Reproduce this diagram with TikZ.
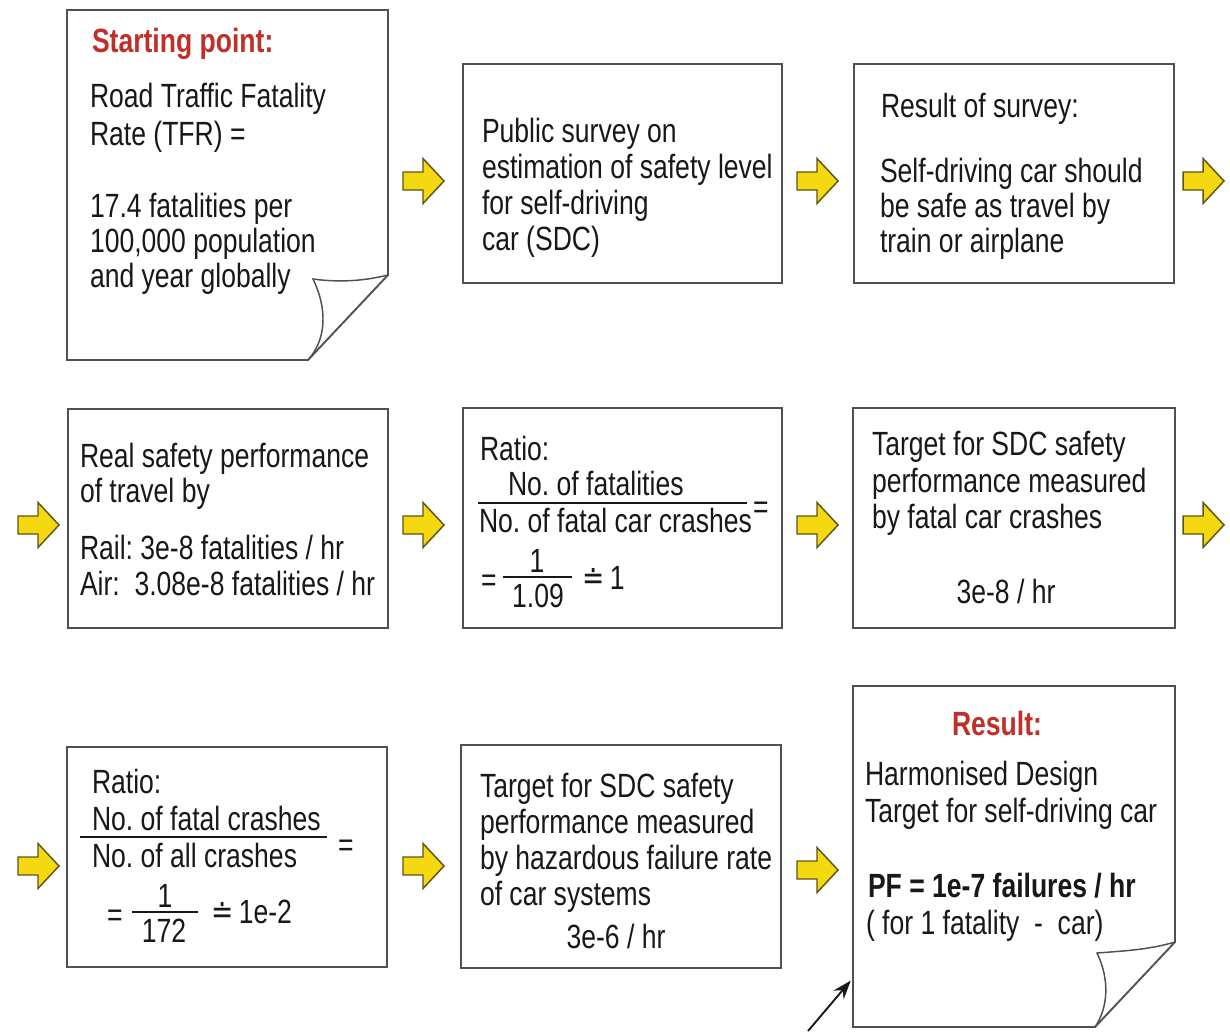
\documentclass[tikz,border=0pt]{standalone}
\usepackage{fontspec}
\setmainfont{Liberation Sans}[FakeStretch=0.79]
\newfontfamily\symfont{DejaVu Sans}[FakeStretch=0.79]
\usetikzlibrary{fit,arrows.meta}
\definecolor{boxgray}{RGB}{80,80,80}
\definecolor{txtcol}{RGB}{24,24,24}
\definecolor{headred}{RGB}{192,48,40}
\definecolor{arrfill}{RGB}{244,216,18}
\definecolor{arrline}{RGB}{95,85,20}
\tikzset{
  box/.style={draw=boxgray, line width=1.4pt, inner sep=0pt},
  curl/.style={draw=boxgray, line width=1.4pt, line join=miter},
  flap/.style={draw=boxgray, line width=1.1pt},
  txt/.style={anchor=base west, inner sep=0pt, outer sep=0pt, text=txtcol, font=\frenchspacing\fontsize{25.2}{27}\selectfont},
  ctxt/.style={txt, anchor=base},
  head/.style={txt, text=headred, font=\frenchspacing\bfseries\fontsize{25.2}{27}\selectfont},
  fbar/.style={draw=txtcol, line width=1.1pt},
  yarrstyle/.style={fill=arrfill, draw=arrline, line width=1.1pt, line join=miter},
  yarr/.pic={\path[yarrstyle] (0,-9) -- (20,-9) -- (20,-22.5) -- (41,0) -- (20,22.5) -- (20,9) -- (0,9) -- cycle;}
}
\begin{document}
\begin{tikzpicture}[x=0.75pt,y=-0.75pt]
\useasboundingbox (0,0) rectangle (1230,1031);
\fill[white] (0,0) rectangle (1230,1031);

% ---------- Box 1 (page curl) ----------
\coordinate (b1nw) at (67,10);
\coordinate (b1se) at (388,360);
\node[fit=(b1nw)(b1se), inner sep=0pt] (b1) {};
\path[curl] (67,10) -- (388,10) -- (388,275) -- (308,360) -- (67,360) -- cycle;
\path[flap] (388,275) .. controls (360,282) and (335,282) .. (313,279)
            .. controls (328,310) and (326,340) .. (308,360);
\node[head] (t1a) at (92,53) {Starting point:};
\node[txt] (t1b) at (90,108) {Road Traffic Fatality};
\node[txt] (t1c) at (90,145) {Rate (TFR) =};
\node[txt] (t1d) at (90,217) {17.4 fatalities per};
\node[txt] (t1e) at (90,252) {100,000 population};
\node[txt] (t1f) at (90,287) {and year globally};

% ---------- Box 2 ----------
\coordinate (b2nw) at (463,64);
\coordinate (b2se) at (782,283);
\node[box, fit=(b2nw)(b2se)] (b2) {};
\node[txt] (t2a) at (482,142) {Public survey on};
\node[txt] (t2b) at (482,178) {estimation of safety level};
\node[txt] (t2c) at (482,214) {for self-driving};
\node[txt] (t2d) at (482,250) {car (SDC)};

% ---------- Box 3 ----------
\coordinate (b3nw) at (854,64);
\coordinate (b3se) at (1174,283);
\node[box, fit=(b3nw)(b3se)] (b3) {};
\node[txt] (t3a) at (881,117) {Result of survey:};
\node[txt] (t3b) at (880,182) {Self-driving car should};
\node[txt] (t3c) at (880,217) {be safe as travel by};
\node[txt] (t3d) at (880,252) {train or airplane};

% ---------- Box 4 ----------
\coordinate (b4nw) at (68,409);
\coordinate (b4se) at (388,628);
\node[box, fit=(b4nw)(b4se)] (b4) {};
\node[txt] (t4a) at (80,467) {Real safety performance};
\node[txt] (t4b) at (80,502) {of travel by};
\node[txt] (t4c) at (80,559) {Rail: 3e-8 fatalities / hr};
\node[txt] (t4d) at (80,595) {Air:\ \ 3.08e-8 fatalities / hr};

% ---------- Box 5 ----------
\coordinate (b5nw) at (463,408);
\coordinate (b5se) at (782,628);
\node[box, fit=(b5nw)(b5se)] (b5) {};
\node[txt] (t5a) at (480,460) {Ratio:};
\node[txt] (t5n) at (508,495) {No. of fatalities};
\path[fbar] (478,503) -- (747,503);
\node[txt] (t5d) at (479,532) {No. of fatal car crashes};
\node[txt] (t5e) at (753,518) {=};
\node[txt] (t5f) at (481,591) {=};
\node[ctxt] (t5g) at (537,572) {1};
\path[fbar] (503,577) -- (572,577);
\node[ctxt] (t5h) at (538,607) {1.09};
\node[txt] (t5i) at (582,589) {{\symfont ≐}\,1};

% ---------- Box 6 ----------
\coordinate (b6nw) at (853,408);
\coordinate (b6se) at (1175,628);
\node[box, fit=(b6nw)(b6se)] (b6) {};
\node[txt] (t6a) at (872,455) {Target for SDC safety};
\node[txt] (t6b) at (872,492) {performance measured};
\node[txt] (t6c) at (872,528) {by fatal car crashes};
\node[ctxt] (t6d) at (1006,603) {3e-8 / hr};

% ---------- Box 7 ----------
\coordinate (b7nw) at (67,747);
\coordinate (b7se) at (387,967);
\node[box, fit=(b7nw)(b7se)] (b7) {};
\node[txt] (t7a) at (92,793) {Ratio:};
\node[txt] (t7n) at (92,830) {No. of fatal crashes};
\path[fbar] (80,837) -- (327,837);
\node[txt] (t7d) at (92,867) {No. of all crashes};
\node[txt] (t7e) at (338,856) {=};
\node[txt] (t7f) at (107,926) {=};
\node[ctxt] (t7g) at (165,907) {1};
\path[fbar] (132,912) -- (198,912);
\node[ctxt] (t7h) at (164,942) {172};
\node[txt] (t7i) at (211,923) {{\symfont ≐}\,1e-2};

% ---------- Box 8 ----------
\coordinate (b8nw) at (461,745);
\coordinate (b8se) at (781,968);
\node[box, fit=(b8nw)(b8se)] (b8) {};
\node[txt] (t8a) at (480,797) {Target for SDC safety};
\node[txt] (t8b) at (480,833) {performance measured};
\node[txt] (t8c) at (480,869) {by hazardous failure rate};
\node[txt] (t8d) at (480,905) {of car systems};
\node[ctxt] (t8e) at (616,948) {3e-6 / hr};

% ---------- Box 9 (page curl, result) ----------
\coordinate (b9nw) at (853,686);
\coordinate (b9se) at (1175,1027);
\node[fit=(b9nw)(b9se), inner sep=0pt] (b9) {};
\path[curl] (853,686) -- (1175,686) -- (1175,942) -- (1095,1027) -- (853,1027) -- cycle;
\path[flap] (1175,942) .. controls (1148,950) and (1122,951) .. (1097,953)
            .. controls (1110,980) and (1108,1008) .. (1095,1027);
\node[head, anchor=base] (t9a) at (997,735) {Result:};
\node[txt] (t9b) at (865,785) {Harmonised Design};
\node[txt] (t9c) at (865,822) {Target for self-driving car};
\node[txt, font=\frenchspacing\bfseries\fontsize{25.2}{27}\selectfont] (t9d) at (868,897) {PF = 1e-7 failures / hr};
\node[txt] (t9e) at (866,934) {( for 1 fatality\ \ -\ \ car)};

% ---------- yellow arrows ----------
\pic at (403,181) {yarr};
\pic at (797,181) {yarr};
\pic at (1183,181) {yarr};
\pic at (18,525) {yarr};
\pic at (403,525) {yarr};
\pic at (797,525) {yarr};
\pic at (1183,525) {yarr};
\pic at (18,866) {yarr};
\pic at (403,866) {yarr};
\pic at (797,870) {yarr};

% ---------- pointer arrow ----------
\coordinate (ptr) at (808,1031);
\coordinate (ptrtip) at ([xshift=-1.5pt,yshift=35pt]b9.south west);
\draw[line width=1.4pt, txtcol, -{Stealth[length=14pt,width=10pt]}] (ptr) -- (ptrtip);
\end{tikzpicture}
\end{document}
